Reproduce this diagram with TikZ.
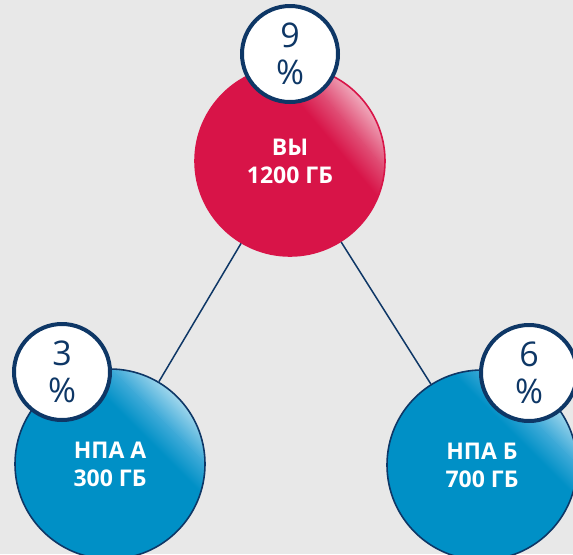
\documentclass[tikz,border=0pt]{standalone}
\usepackage{fontspec}
\setmainfont{Open Sans}

\definecolor{bgGray}{HTML}{E8E8E8}
\definecolor{navy}{HTML}{0E3766}
\definecolor{redBase}{HTML}{D81448}
\definecolor{redMid}{HTML}{E04E75}
\definecolor{redLight}{HTML}{F2B4C4}
\definecolor{blueBase}{HTML}{0090C6}
\definecolor{blueMid}{HTML}{3EAAD8}
\definecolor{blueLight}{HTML}{ACDCEF}

\begin{document}
\begin{tikzpicture}[
  x=0.5pt, y=0.5pt,
  ball/.style n args={4}{
    circle, minimum size=95pt, inner sep=0pt, line width=0.8pt, fill=#2,
    align=center, text=white, font=\bfseries\fontsize{11.5}{14}\selectfont,
    path picture={
      \coordinate (pc) at (path picture bounding box.center);
      \begin{scope}[transform canvas={rotate around={#1:(pc)}}]
        \shade[left color=#2, right color=#3]
          ([shift={(22pt,-50pt)}]pc) rectangle ([shift={(34pt,50pt)}]pc);
        \shade[left color=#3, right color=#4]
          ([shift={(33.8pt,-50pt)}]pc) rectangle ([shift={(49pt,50pt)}]pc);
      \end{scope}
    },
  },
  redball/.style={ball={40}{redBase}{redMid}{redLight}, draw=redBase},
  blueball/.style={ball={45}{blueBase}{blueMid}{blueLight}, draw=navy},
  badge/.style={
    circle, draw=navy, line width=2pt, fill=white, minimum size=48pt,
    inner sep=0pt, align=center, text=navy,
    font=\fontsize{17}{18.5}\selectfont,
  },
  link/.style={draw=navy, line width=0.75pt},
]

% ---- canvas ---------------------------------------------------------------
\fill[bgGray] (0,0) rectangle (573,554);
\useasboundingbox (0,0) rectangle (573,554);

% ---- storage volumes --------------------------------------------------------
\node[redball]  (vy)   at (290,393) {ВЫ\\1200 ГБ};
\node[blueball] (npaA) at (110,90)  {НПА А\\300 ГБ};
\node[blueball] (npaB) at (482,89)  {НПА Б\\700 ГБ};

% ---- links ------------------------------------------------------------------
\draw[link] (vy) -- (npaA);
\draw[link] (vy) -- (npaB);

% ---- percentage badges ------------------------------------------------------
\node[badge] (pctVy)   at (290,500) {9\\\%};
\node[badge] (pctNpaA) at (62,182)  {3\\\%};
\node[badge] (pctNpaB) at (529,181) {6\\\%};

\end{tikzpicture}
\end{document}
